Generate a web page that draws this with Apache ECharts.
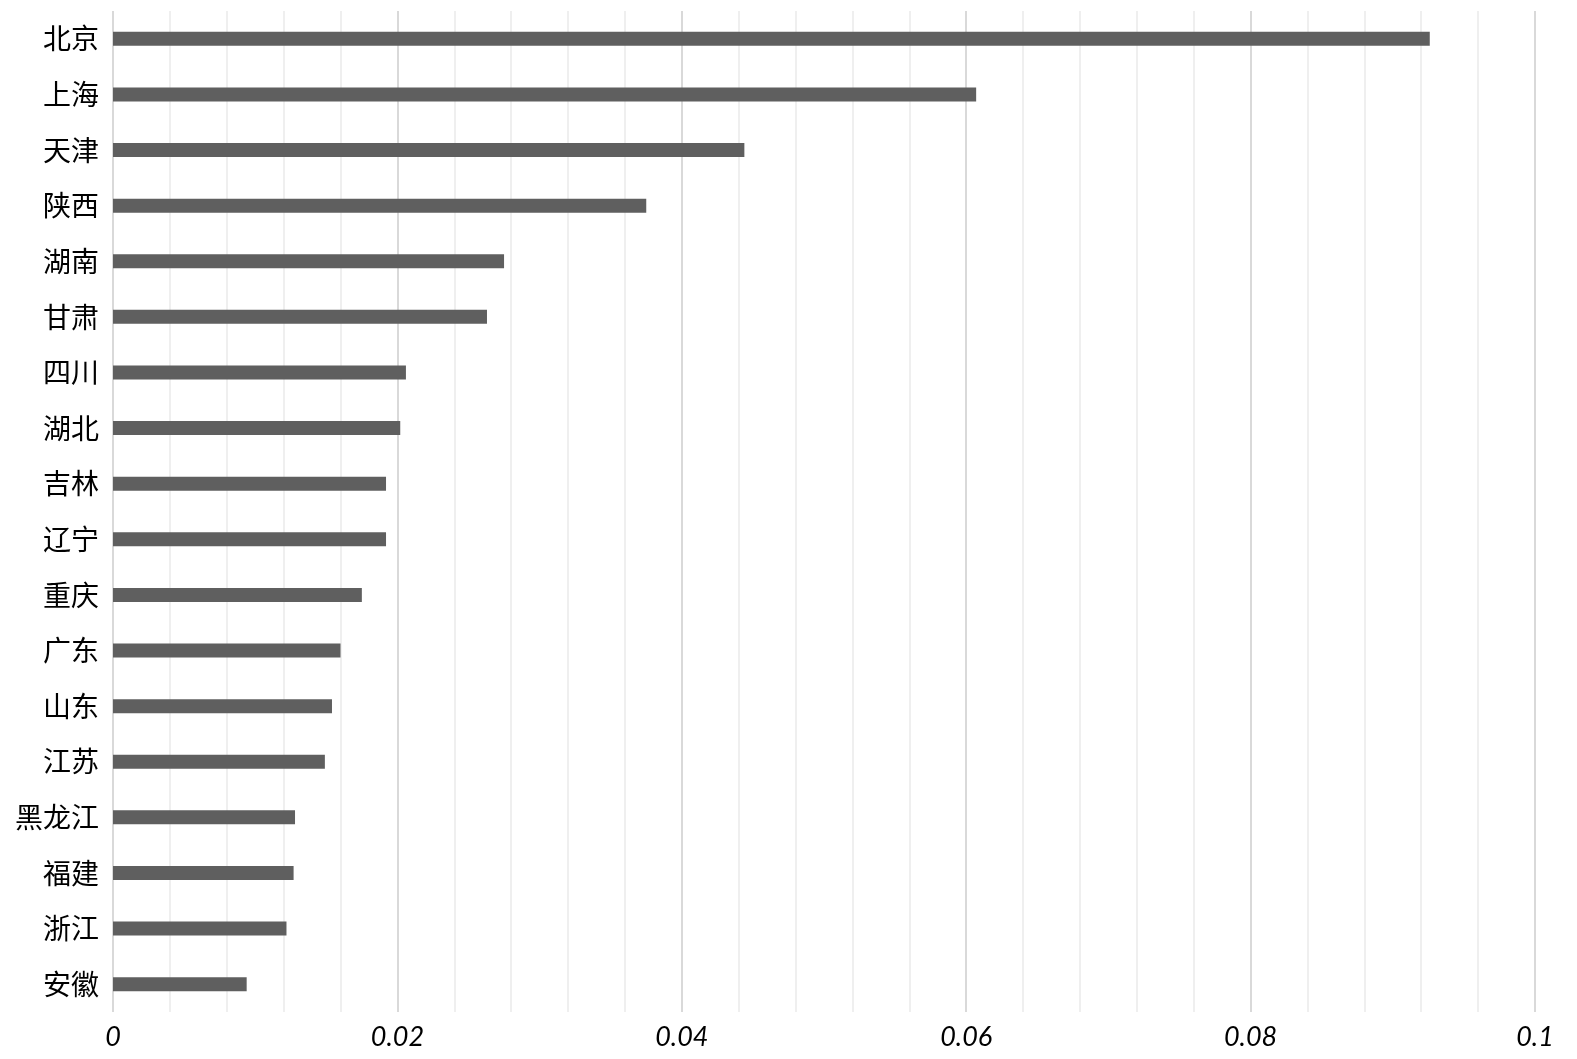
<!DOCTYPE html>
<html>
<head>
<meta charset="utf-8">
<title>bar</title>
<script src="https://cdn.jsdelivr.net/npm/echarts@6/dist/echarts.min.js"></script>
<style>
	html, body { margin: 0; padding: 0; background: #fff; }
	#chart { width: 1577px; height: 1059px; }
</style>
</head>
<body>
<div id="chart"></div>
<script>
// provinces, top to bottom
var provinces = ['北京', '上海', '天津', '陕西', '湖南', '甘肃', '四川', '湖北', '吉林',
	'辽宁', '重庆', '广东', '山东', '江苏', '黑龙江', '福建', '浙江', '安徽'];
var values = [0.0926, 0.0607, 0.0444, 0.0375, 0.0275, 0.0263, 0.0206, 0.0202, 0.0192,
	0.0192, 0.0175, 0.0160, 0.0154, 0.0149, 0.0128, 0.0127, 0.0122, 0.0094];
var xMin = 0;
var xMax = 0.1;
var xStep = 0.02;

var chart = echarts.init(document.getElementById('chart'));
chart.setOption({
	animation: false,
	grid: {
		left: 113,
		right: 42,
		top: 11,
		bottom: 47,
		containLabel: false
	},
	xAxis: {
		type: 'value',
		min: xMin,
		max: xMax,
		interval: xStep,
		axisLine: { show: false },
		axisTick: { show: false },
		axisLabel: {
			margin: 12,
			fontFamily: 'Lato',
			fontStyle: 'italic',
			fontSize: 27,
			color: '#000'
		},
		//网格线
		splitLine: {
			show: true,
			lineStyle: { color: '#d9d9d9', width: 2 }
		},
		minorTick: { show: false, splitNumber: 5 },
		minorSplitLine: {
			show: true,
			lineStyle: { color: '#efefef', width: 2 }
		}
	},
	yAxis: {
		type: 'category',
		inverse: true,
		data: provinces,
		axisLine: { show: false },
		axisTick: { show: false },
		axisLabel: {
			margin: 14,
			fontFamily: 'Noto Sans CJK SC',
			fontSize: 28,
			color: '#000'
		}
	},
	series: [
		{
			type: 'bar',
			data: values,
			barWidth: 14,
			itemStyle: { color: '#5f5f5f' }
		}
	]
});
</script>
</body>
</html>
